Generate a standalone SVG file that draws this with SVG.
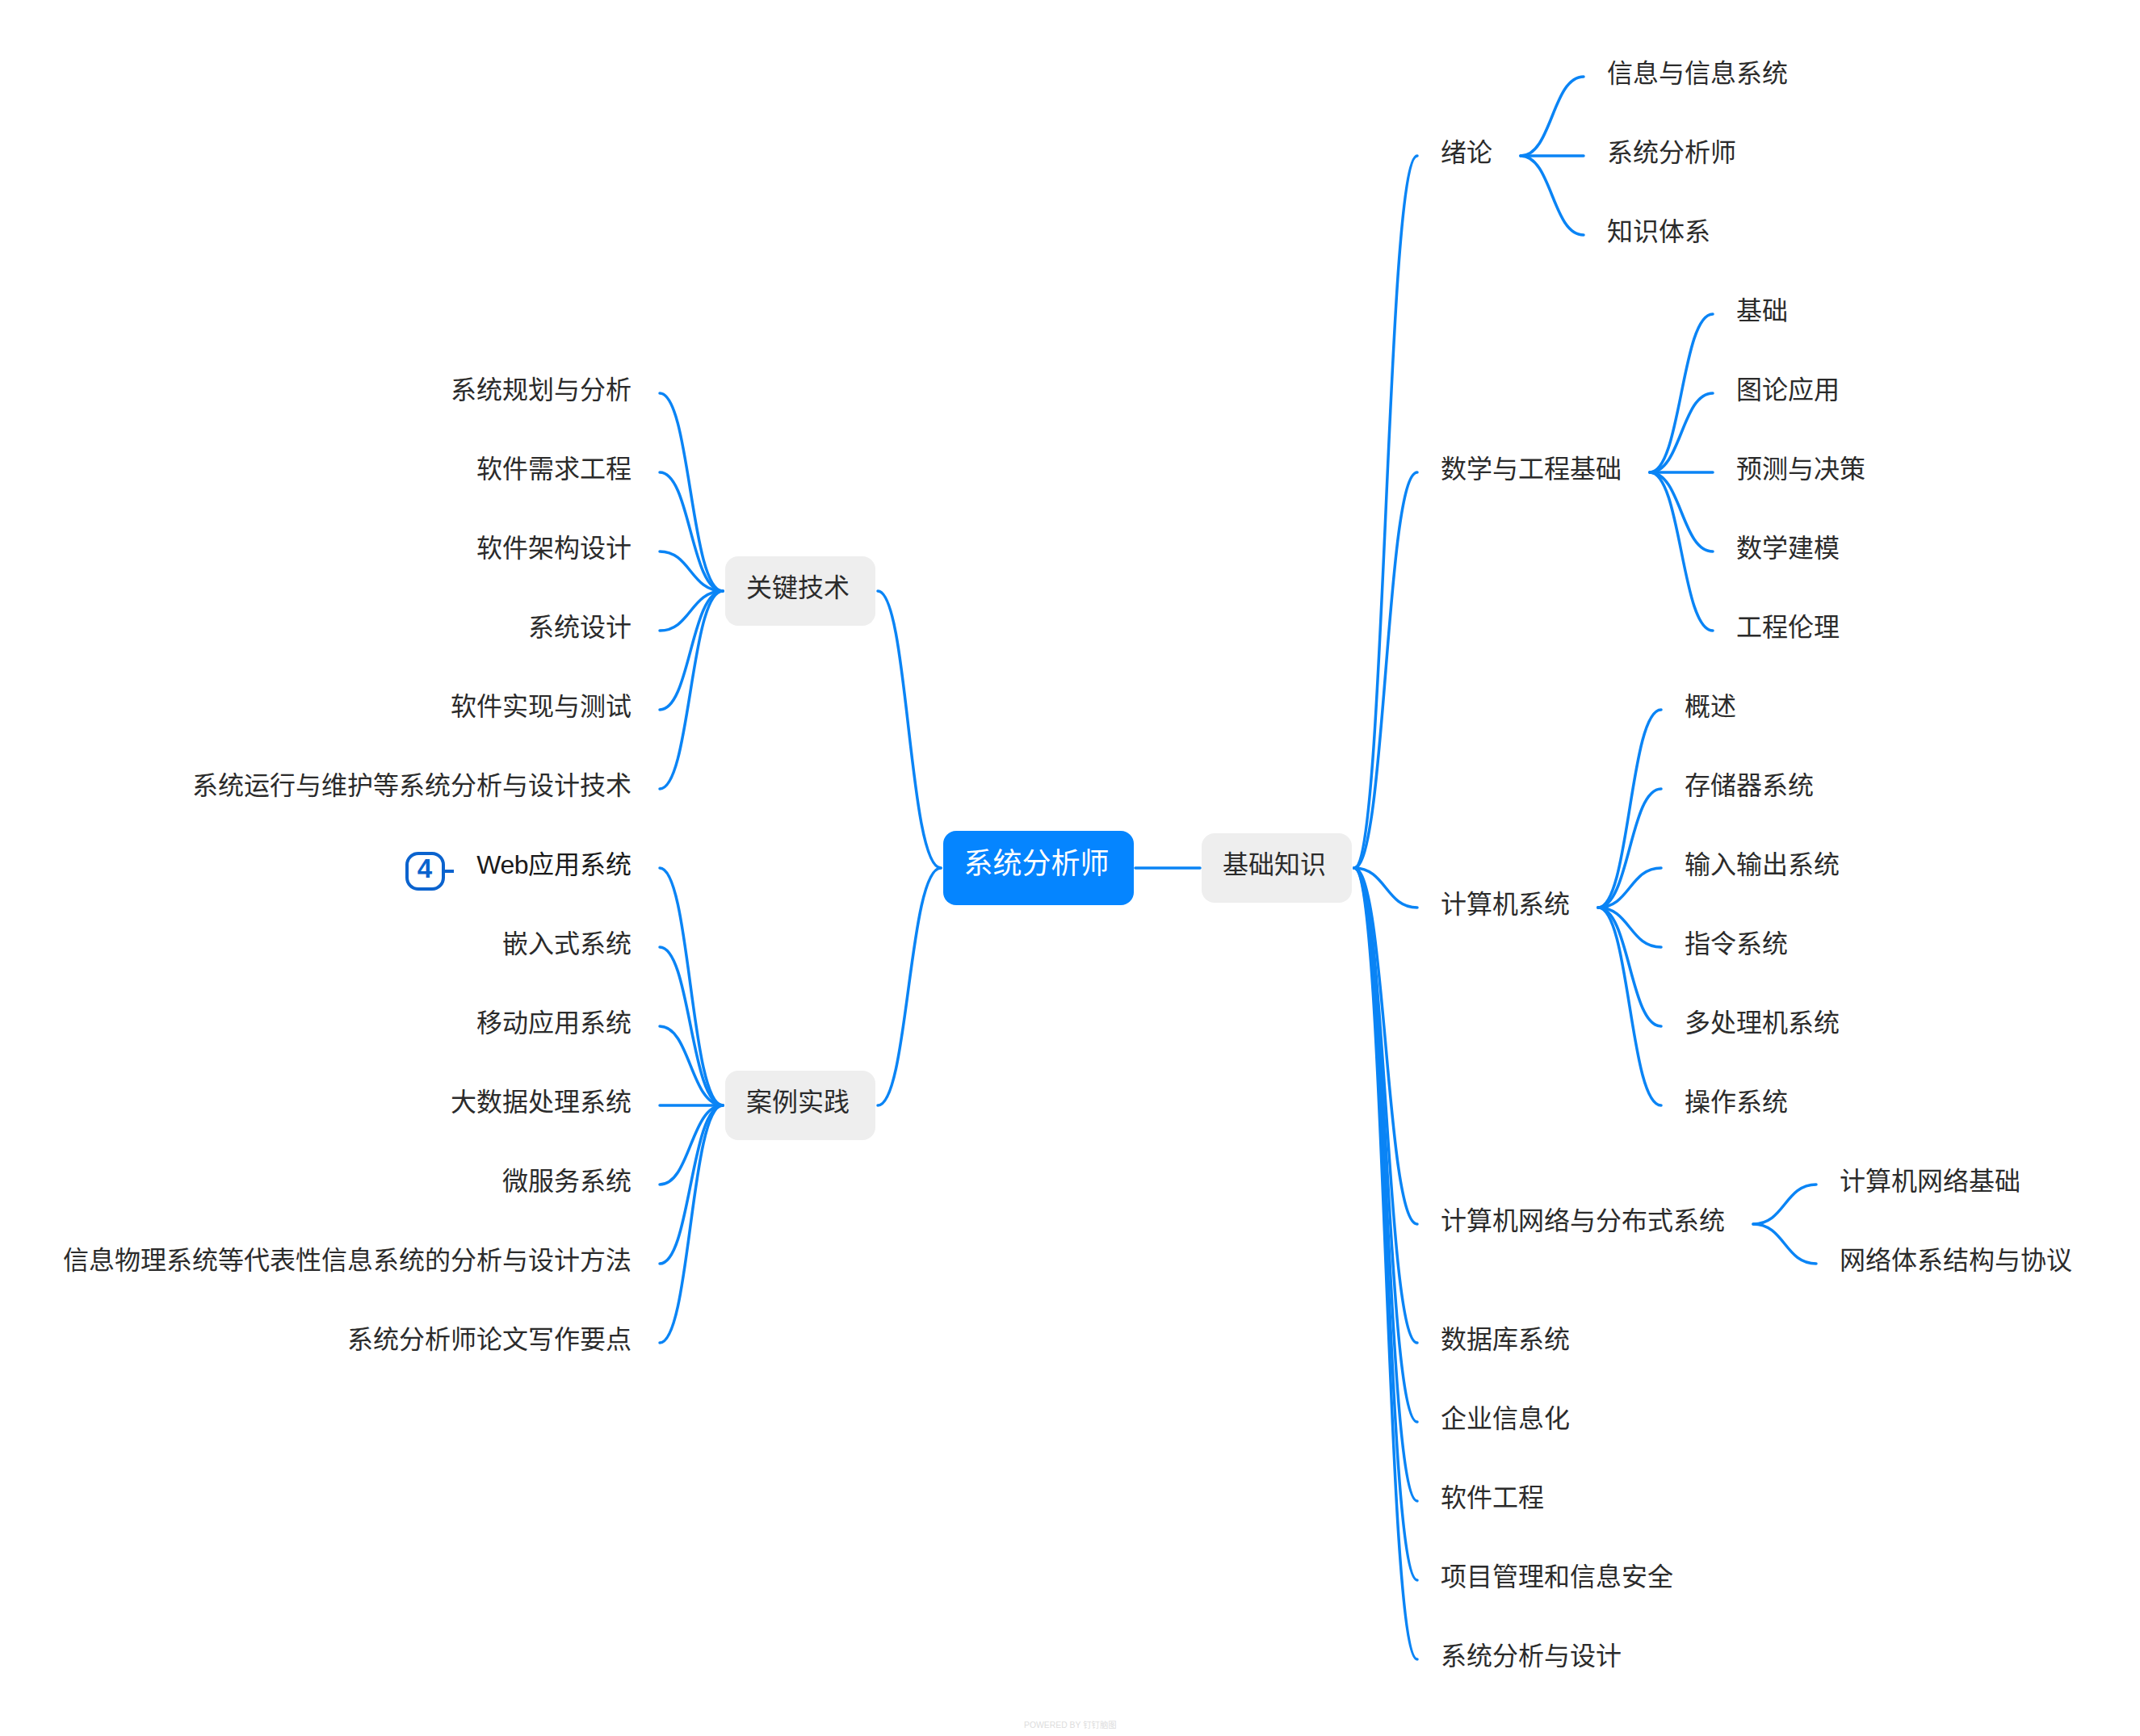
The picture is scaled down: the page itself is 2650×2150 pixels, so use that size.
<svg xmlns="http://www.w3.org/2000/svg" width="2650" height="2150" viewBox="0 0 2650 2150">
<style>
text{font-family:"Liberation Sans","Noto Sans CJK SC",sans-serif;font-size:32px;fill:#2b2b2b}
.l{text-anchor:end}
.c{fill:none;stroke:#0a84f5;stroke-width:3.5;stroke-linecap:round}
.b{fill:#eeeeee}
</style>
<rect width="2650" height="2150" fill="#ffffff"/>
<g id="connectors">
<path class="c" d="M1406 1075H1486"/>
<path class="c" d="M1165 1075C1125 1075 1125 732 1087 732"/>
<path class="c" d="M1165 1075C1125 1075 1125 1369 1087 1369"/>
<path class="c" d="M895 732C855 732 855 487 817 487"/>
<path class="c" d="M895 732C855 732 855 585 817 585"/>
<path class="c" d="M895 732C855 732 855 683 817 683"/>
<path class="c" d="M895 732C855 732 855 781 817 781"/>
<path class="c" d="M895 732C855 732 855 879 817 879"/>
<path class="c" d="M895 732C855 732 855 977 817 977"/>
<path class="c" d="M895 1369C855 1369 855 1075 817 1075"/>
<path class="c" d="M895 1369C855 1369 855 1173 817 1173"/>
<path class="c" d="M895 1369C855 1369 855 1271 817 1271"/>
<path class="c" d="M895 1369H817"/>
<path class="c" d="M895 1369C855 1369 855 1467 817 1467"/>
<path class="c" d="M895 1369C855 1369 855 1565 817 1565"/>
<path class="c" d="M895 1369C855 1369 855 1663 817 1663"/>
<path class="c" d="M1677 1075C1716 1075 1716 193 1755 193"/>
<path class="c" d="M1677 1075C1716 1075 1716 585 1755 585"/>
<path class="c" d="M1677 1075C1716 1075 1716 1124 1755 1124"/>
<path class="c" d="M1677 1075C1716 1075 1716 1516 1755 1516"/>
<path class="c" d="M1677 1075C1716 1075 1716 1663 1755 1663"/>
<path class="c" d="M1677 1075C1716 1075 1716 1761 1755 1761"/>
<path class="c" d="M1677 1075C1716 1075 1716 1859 1755 1859"/>
<path class="c" d="M1677 1075C1716 1075 1716 1957 1755 1957"/>
<path class="c" d="M1677 1075C1716 1075 1716 2055 1755 2055"/>
<path class="c" d="M1883 193C1922 193 1922 95 1961 95"/>
<path class="c" d="M1883 193H1961"/>
<path class="c" d="M1883 193C1922 193 1922 291 1961 291"/>
<path class="c" d="M2043 585C2082 585 2082 389 2121 389"/>
<path class="c" d="M2043 585C2082 585 2082 487 2121 487"/>
<path class="c" d="M2043 585H2121"/>
<path class="c" d="M2043 585C2082 585 2082 683 2121 683"/>
<path class="c" d="M2043 585C2082 585 2082 781 2121 781"/>
<path class="c" d="M1979 1124C2018 1124 2018 879 2057 879"/>
<path class="c" d="M1979 1124C2018 1124 2018 977 2057 977"/>
<path class="c" d="M1979 1124C2018 1124 2018 1075 2057 1075"/>
<path class="c" d="M1979 1124C2018 1124 2018 1173 2057 1173"/>
<path class="c" d="M1979 1124C2018 1124 2018 1271 2057 1271"/>
<path class="c" d="M1979 1124C2018 1124 2018 1369 2057 1369"/>
<path class="c" d="M2171 1516C2210 1516 2210 1467 2249 1467"/>
<path class="c" d="M2171 1516C2210 1516 2210 1565 2249 1565"/>
</g>
<g id="root"><rect x="1168" y="1029" width="236" height="92" rx="16" fill="#0585ff"/><text x="1193.500" y="1082" style="font-size:36px;fill:#ffffff">系统分析师</text></g>
<g id="n-jichu"><rect class="b" x="1488" y="1032" width="186" height="86" rx="16"/><text x="1514" y="1081.500">基础知识</text></g>
<g id="n-guanjian"><rect class="b" x="898" y="689" width="186" height="86" rx="16"/><text x="924" y="738.500">关键技术</text></g>
<g id="n-anli"><rect class="b" x="898" y="1326" width="186" height="86" rx="16"/><text x="924" y="1375.500">案例实践</text></g>
<g id="n1"><text x="1784" y="199.500">绪论</text></g>
<g id="n2"><text x="1990" y="101.500">信息与信息系统</text></g>
<g id="n3"><text x="1990" y="199.500">系统分析师</text></g>
<g id="n4"><text x="1990" y="297.500">知识体系</text></g>
<g id="n5"><text x="1784" y="591.500">数学与工程基础</text></g>
<g id="n6"><text x="2150" y="395.500">基础</text></g>
<g id="n7"><text x="2150" y="493.500">图论应用</text></g>
<g id="n8"><text x="2150" y="591.500">预测与决策</text></g>
<g id="n9"><text x="2150" y="689.500">数学建模</text></g>
<g id="n10"><text x="2150" y="787.500">工程伦理</text></g>
<g id="n11"><text x="1784" y="1130.500">计算机系统</text></g>
<g id="n12"><text x="2086" y="885.500">概述</text></g>
<g id="n13"><text x="2086" y="983.500">存储器系统</text></g>
<g id="n14"><text x="2086" y="1081.500">输入输出系统</text></g>
<g id="n15"><text x="2086" y="1179.500">指令系统</text></g>
<g id="n16"><text x="2086" y="1277.500">多处理机系统</text></g>
<g id="n17"><text x="2086" y="1375.500">操作系统</text></g>
<g id="n18"><text x="1784" y="1522.500">计算机网络与分布式系统</text></g>
<g id="n19"><text x="2278" y="1473.500">计算机网络基础</text></g>
<g id="n20"><text x="2278" y="1571.500">网络体系结构与协议</text></g>
<g id="n21"><text x="1784" y="1669.500">数据库系统</text></g>
<g id="n22"><text x="1784" y="1767.500">企业信息化</text></g>
<g id="n23"><text x="1784" y="1865.500">软件工程</text></g>
<g id="n24"><text x="1784" y="1963.500">项目管理和信息安全</text></g>
<g id="n25"><text x="1784" y="2061.500">系统分析与设计</text></g>
<g id="l1"><text class="l" x="782" y="493.500">系统规划与分析</text></g>
<g id="l2"><text class="l" x="782" y="591.500">软件需求工程</text></g>
<g id="l3"><text class="l" x="782" y="689.500">软件架构设计</text></g>
<g id="l4"><text class="l" x="782" y="787.500">系统设计</text></g>
<g id="l5"><text class="l" x="782" y="885.500">软件实现与测试</text></g>
<g id="l6"><text class="l" x="782" y="983.500">系统运行与维护等系统分析与设计技术</text></g>
<g id="l7"><text class="l" x="782" y="1081.500" style="fill:#1a1a1a"><tspan letter-spacing="-0.500">Web</tspan>应用系统</text>
<rect x="504" y="1057" width="45" height="44" rx="14" fill="none" stroke="#0b63ce" stroke-width="4"/><path d="M549 1079H562" stroke="#0b63ce" stroke-width="4" fill="none"/><text x="526" y="1087" text-anchor="middle" style="font-size:33px;font-weight:bold;fill:#0b63ce">4</text></g>
<g id="l8"><text class="l" x="782" y="1179.500">嵌入式系统</text></g>
<g id="l9"><text class="l" x="782" y="1277.500">移动应用系统</text></g>
<g id="l10"><text class="l" x="782" y="1375.500">大数据处理系统</text></g>
<g id="l11"><text class="l" x="782" y="1473.500">微服务系统</text></g>
<g id="l12"><text class="l" x="782" y="1571.500">信息物理系统等代表性信息系统的分析与设计方法</text></g>
<g id="l13"><text class="l" x="782" y="1669.500">系统分析师论文写作要点</text></g>
<text id="watermark" x="1268" y="2140" style="font-size:10.400px;fill:#dddddd">POWERED BY 钉钉脑图</text>
</svg>
